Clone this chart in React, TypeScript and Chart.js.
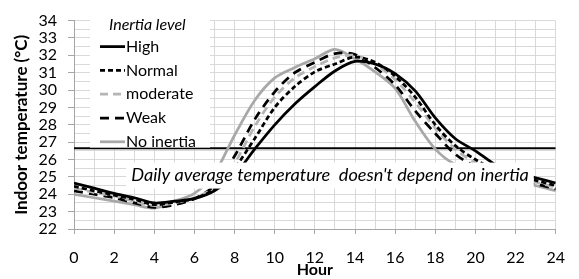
import React, { useEffect, useRef } from "react";
import { Chart, registerables } from "chart.js";

Chart.register(...registerables);

const hours = [0, 1, 2, 3, 4, 5, 6, 7, 8, 9, 10, 11, 12, 13, 14, 15, 16, 17, 18, 19, 20, 21, 22, 23, 24];
const high = [24.65, 24.35, 24.05, 23.8, 23.5, 23.6, 23.75, 24.2, 25.1, 26.6, 28.0, 29.2, 30.2, 31.1, 31.65, 31.5, 30.95, 29.95, 28.4, 27.2, 26.5, 25.7, 25.25, 24.95, 24.65];
const normal = [24.45, 24.2, 23.95, 23.7, 23.4, 23.55, 23.75, 24.3, 25.5, 27.2, 29.0, 30.2, 31.05, 31.5, 31.9, 31.6, 30.8, 29.6, 28.0, 26.8, 26.0, 25.4, 25.1, 24.8, 24.5];
const moderate = [24.35, 24.1, 23.9, 23.6, 23.35, 23.5, 23.8, 24.4, 25.8, 27.9, 29.6, 30.7, 31.35, 31.85, 32.0, 31.5, 30.6, 29.3, 27.8, 26.6, 25.8, 25.3, 25.0, 24.7, 24.4];
const weak = [24.2, 24.0, 23.8, 23.5, 23.25, 23.4, 23.75, 24.5, 26.2, 28.3, 29.9, 31.0, 31.6, 32.1, 32.05, 31.3, 30.3, 28.8, 27.5, 26.3, 25.6, 25.2, 24.9, 24.6, 24.3];
const noInertia = [24.0, 23.8, 23.6, 23.4, 23.2, 23.6, 24.05, 25.2, 27.4, 29.4, 30.7, 31.3, 31.8, 32.35, 31.8, 31.05, 30.1, 28.2, 26.6, 25.7, 25.3, 25.0, 24.75, 24.5, 24.2];
const dailyAverage = 26.65;

const seriesNames = ["High", "Normal", "moderate", "Weak", "No inertia"];
const legendTitle = "Inertia level";
const annotationText = "Daily average temperature  doesn't depend on inertia";
const xTitle = "Hour";
const yTitle = "Indoor temperature (°C)";
const xMin = 0;
const xMax = 24;
const yMin = 22;
const yMax = 34;

const FONT = "Lato, 'Open Sans', sans-serif";

const seriesValues = [high, normal, moderate, weak, noInertia];
const seriesColors = ["#000000", "#000000", "#b5b5b5", "#000000", "#a8a8a8"];
const seriesDashes: number[][] = [[], [5, 3], [8, 5], [9, 6], []];

const overlayPlugin = {
  id: "overlayBoxes",
  afterDatasetsDraw(chart: any) {
    const ctx = chart.ctx as CanvasRenderingContext2D;
    const area = chart.chartArea;
    ctx.save();

    // Legend box
    const lx = area.left + 16;
    const ly = area.top - 12;
    const lw = 120;
    const lh = 139;
    ctx.fillStyle = "#ffffff";
    ctx.fillRect(lx, ly, lw, lh);

    ctx.fillStyle = "#000000";
    ctx.textBaseline = "middle";
    ctx.textAlign = "left";
    ctx.font = `italic 16px ${FONT}`;
    ctx.fillText(legendTitle, area.left + 35, area.top + 4);

    ctx.font = `16px ${FONT}`;
    seriesNames.forEach((name, i) => {
      const y = area.top + 26 + i * 23.8;
      ctx.beginPath();
      ctx.strokeStyle = seriesColors[i];
      ctx.lineWidth = 2.75;
      ctx.setLineDash(seriesDashes[i]);
      ctx.moveTo(area.left + 26, y);
      ctx.lineTo(area.left + 51, y);
      ctx.stroke();
      ctx.setLineDash([]);
      ctx.fillStyle = "#000000";
      ctx.fillText(name, area.left + 52, y);
    });

    // Annotation box: text fitted to ~398px like the reference
    let size = 16;
    ctx.font = `italic ${size}px ${FONT}`;
    const w0 = ctx.measureText(annotationText).width;
    size = Math.min(19, (size * 398) / w0);
    ctx.font = `italic ${size}px ${FONT}`;
    const tw = ctx.measureText(annotationText).width;
    const cx = area.left + 256;
    const cy = area.top + 155;
    ctx.fillStyle = "#ffffff";
    ctx.fillRect(cx - tw / 2 - 5, cy - 13, tw + 10, 26);
    ctx.fillStyle = "#000000";
    ctx.textAlign = "center";
    ctx.fillText(annotationText, cx, cy);

    ctx.restore();
  },
};

export default function App() {
  const canvasRef = useRef<HTMLCanvasElement | null>(null);

  useEffect(() => {
    if (!canvasRef.current) return;
    Chart.defaults.font.family = FONT;
    const datasets: any[] = seriesNames.map((name, i) => ({
      label: name,
      data: hours.map((h, j) => ({ x: h, y: seriesValues[i][j] })),
      borderColor: seriesColors[i],
      borderDash: seriesDashes[i],
      borderWidth: 2.75,
      pointRadius: 0,
      tension: 0.3,
      fill: false,
    }));
    datasets.push({
      label: "Daily average",
      data: [
        { x: xMin, y: dailyAverage },
        { x: xMax, y: dailyAverage },
      ],
      borderColor: "#000000",
      borderWidth: 2,
      pointRadius: 0,
      tension: 0,
      fill: false,
    });

    const chart = new Chart(canvasRef.current, {
      type: "line",
      data: { datasets },
      options: {
        animation: false,
        responsive: false,
        maintainAspectRatio: false,
        layout: { padding: { top: 18, right: 14, left: 0, bottom: 0 } },
        plugins: {
          legend: { display: false },
          tooltip: { enabled: false },
        },
        scales: {
          x: {
            type: "linear",
            min: xMin,
            max: xMax,
            afterFit: (scale: any) => {
              scale.height = 50;
            },
            ticks: {
              stepSize: 1,
              autoSkip: false,
              maxRotation: 0,
              padding: 14,
              color: "#000000",
              font: { size: 16, family: FONT },
              callback: (v: any) => (Number(v) % 2 === 0 ? String(v) : ""),
            },
            grid: {
              color: "#d9d9d9",
              lineWidth: 1,
              tickLength: 5,
              tickColor: (c: any) =>
                c.tick && Number(c.tick.value) % 2 === 0 ? "#a6a6a6" : "rgba(0,0,0,0)",
            },
            border: { display: true, color: "#a6a6a6", width: 1 },
            title: {
              display: true,
              text: xTitle,
              color: "#000000",
              font: { size: 16, weight: "bold", family: FONT },
              padding: { top: 0, bottom: 0 },
            },
          },
          y: {
            type: "linear",
            min: yMin,
            max: yMax,
            afterFit: (scale: any) => {
              scale.width = 74;
            },
            ticks: {
              stepSize: 0.5,
              autoSkip: false,
              padding: 11,
              color: "#000000",
              font: { size: 16, family: FONT },
              callback: (v: any) => (Number.isInteger(Number(v)) ? String(v) : ""),
            },
            grid: {
              color: "#d9d9d9",
              lineWidth: 1,
              tickLength: 6,
              tickColor: (c: any) =>
                c.tick && Number.isInteger(Number(c.tick.value)) ? "#a6a6a6" : "rgba(0,0,0,0)",
            },
            border: { display: true, color: "#a6a6a6", width: 1 },
            title: {
              display: true,
              text: yTitle,
              color: "#000000",
              font: { size: 17, weight: "bold", family: FONT },
              padding: { top: 11, bottom: 0 },
            },
          },
        },
      },
      plugins: [overlayPlugin],
    });

    return () => chart.destroy();
  }, []);

  return (
    <div style={{ position: "fixed", left: 0, top: 0, width: 579, height: 279, background: "#ffffff" }}>
      <canvas ref={canvasRef} width={579} height={279} style={{ display: "block" }} />
    </div>
  );
}
